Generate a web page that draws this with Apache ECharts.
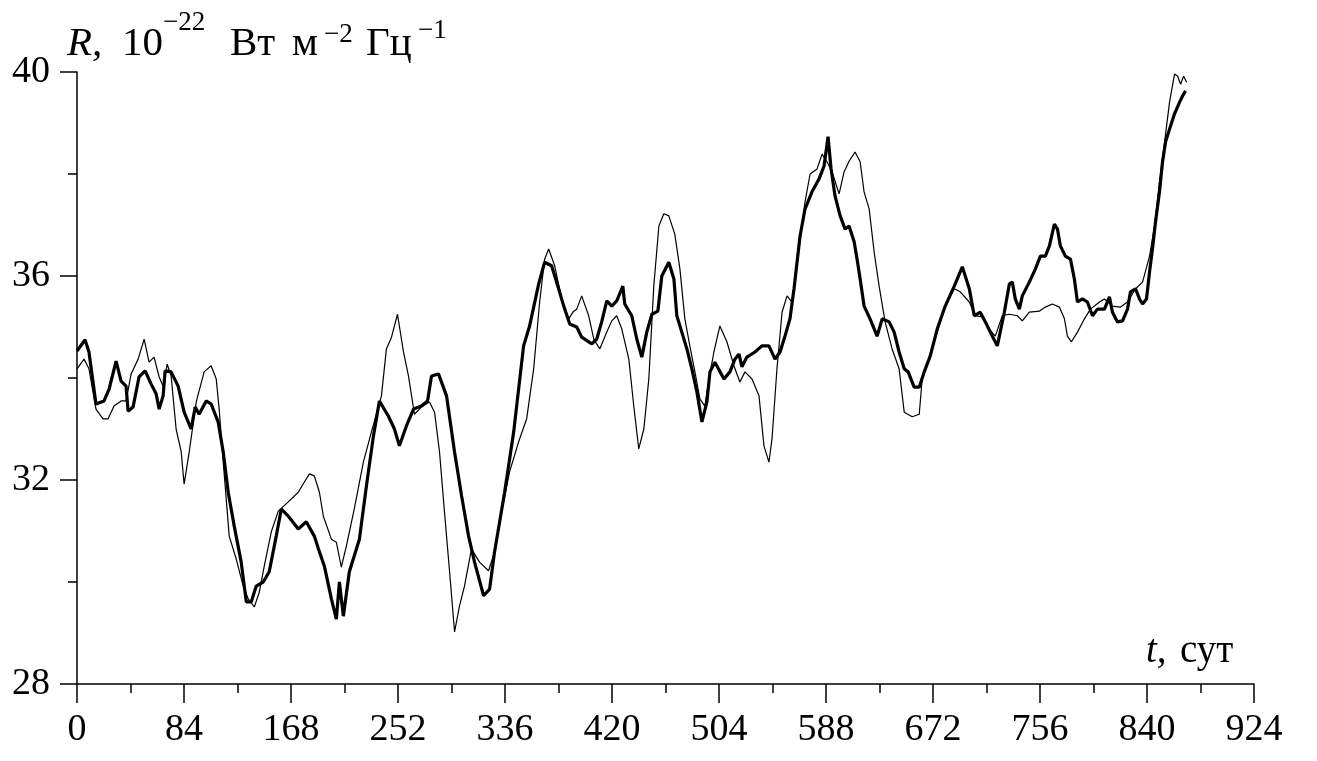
<!DOCTYPE html>
<html>
<head>
<meta charset="utf-8">
<script src="https://cdn.jsdelivr.net/npm/echarts@6/dist/echarts.min.js"></script>
<style>
html,body{margin:0;padding:0;background:#fff;}
#chart{width:1317px;height:761px;}
</style>
</head>
<body>
<div id="chart"></div>
<script>
// t (days), R (10^-22 W m^-2 Hz^-1)
const thickSeries = [
[0,34.53],[6.3,34.75],[9.4,34.51],[14.9,33.49],[21.2,33.55],[25.2,33.78],[30.7,34.33],[34.6,33.94],[38.5,33.84],[40.1,33.35],
[44.0,33.43],[48.7,34.02],[53.5,34.14],[58.2,33.88],[62.1,33.69],[64.5,33.39],[67.6,33.65],[69.2,34.14],[73.9,34.12],[79.4,33.84],
[84.1,33.33],[89.6,33.00],[92.8,33.43],[95.9,33.29],[101.4,33.55],[105.3,33.49],[110.8,33.14],[114.8,32.55],[118.7,31.76],[123.4,31.10],
[128.9,30.39],[132.9,29.61],[136.8,29.61],[140.7,29.92],[146.2,30.00],[150.9,30.20],[156.4,30.90],[160.4,31.43],[165.9,31.29],[173.7,31.04],
[180.0,31.18],[186.3,30.90],[189.5,30.65],[194.2,30.31],[199.7,29.67],[203.6,29.27],[206.0,30.00],[209.1,29.33],[213.8,30.20],[221.7,30.84],
[227.2,31.88],[232.7,32.86],[237.4,33.55],[244.5,33.25],[249.2,33.00],[253.1,32.67],[258.6,33.06],[264.2,33.39],[270.4,33.45],[275.2,33.55],
[278.3,34.04],[283.8,34.08],[290.1,33.65],[296.4,32.55],[301.9,31.69],[307.4,30.90],[312.1,30.39],[319.2,29.73],[323.9,29.86],[327.8,30.59],
[335.7,31.76],[342.8,32.94],[350.6,34.63],[355.3,35.02],[362.4,35.84],[367.1,36.27],[372.6,36.20],[378.1,35.75],[382.1,35.41],[386.8,35.06],
[392.3,35.00],[396.2,34.80],[404.1,34.67],[408.0,34.76],[411.9,35.10],[415.9,35.51],[419.8,35.41],[423.7,35.51],[428.5,35.80],[430.0,35.45],
[435.5,35.22],[439.5,34.76],[443.4,34.41],[447.3,34.90],[451.3,35.25],[456.0,35.31],[459.1,36.00],[464.6,36.27],[468.6,35.94],[470.9,35.22],
[474.8,34.90],[478.8,34.57],[482.7,34.18],[486.6,33.73],[490.6,33.14],[494.5,33.53],[496.9,34.12],[500.8,34.31],[507.9,33.98],[512.6,34.12],
[516.5,34.37],[519.7,34.47],[522.0,34.22],[525.9,34.41],[532.2,34.51],[537.7,34.63],[543.2,34.63],[548.0,34.37],[551.9,34.51],[555.8,34.82],
[559.7,35.16],[562.9,35.75],[567.6,36.78],[571.5,37.31],[577.0,37.65],[582.5,37.90],[586.5,38.16],[589.6,38.73],[592.0,38.10],[595.1,37.57],
[599.1,37.18],[603.0,36.92],[606.1,36.98],[610.1,36.67],[612.4,36.33],[614.8,35.94],[617.9,35.41],[622.6,35.16],[628.1,34.82],[632.1,35.16],
[637.6,35.10],[641.5,34.90],[645.4,34.51],[649.4,34.18],[652.5,34.12],[657.2,33.82],[661.2,33.82],[665.1,34.12],[669.8,34.43],[675.3,34.96],
[681.6,35.41],[688.7,35.80],[695.0,36.18],[700.5,35.75],[704.4,35.22],[709.1,35.29],[713.1,35.10],[718.6,34.82],[722.5,34.63],[728.0,35.29],
[731.9,35.84],[734.3,35.88],[736.6,35.55],[739.8,35.35],[742.1,35.61],[747.6,35.88],[752.4,36.14],[756.3,36.39],[760.2,36.39],[763.4,36.59],
[767.3,37.02],[769.7,36.92],[772.0,36.59],[775.9,36.39],[779.9,36.33],[783.0,35.94],[785.4,35.49],[789.3,35.55],[793.2,35.49],[797.2,35.22],
[801.1,35.35],[806.6,35.35],[810.5,35.59],[812.9,35.29],[816.8,35.10],[820.8,35.12],[824.7,35.35],[827.0,35.69],[831.0,35.75],[834.1,35.55],
[836.5,35.45],[839.6,35.55],[842.0,36.08],[844.3,36.53],[846.7,37.06],[849.8,37.65],[852.2,38.24],[854.6,38.63],[857.7,38.88],[861.6,39.18],
[865.6,39.41],[867.9,39.53],[870.3,39.63]
];
const thinSeries = [
[0,34.18],[5.5,34.37],[9.4,34.18],[14.9,33.39],[20.4,33.20],[24.4,33.20],[29.1,33.45],[34.6,33.55],[38.5,33.55],[42.5,34.08],
[48.0,34.37],[52.7,34.76],[56.6,34.31],[60.5,34.41],[64.5,34.02],[67.6,33.84],[70.8,34.27],[73.9,34.04],[77.8,33.00],[81.8,32.55],
[84.1,31.92],[88.1,32.55],[93.6,33.53],[99.8,34.12],[105.3,34.24],[109.3,33.98],[111.6,33.39],[114.8,32.35],[119.5,30.90],[125.0,30.45],
[130.5,29.92],[134.4,29.67],[139.2,29.51],[143.1,29.80],[147.0,30.31],[152.5,30.98],[158.0,31.39],[165.9,31.57],[173.7,31.76],[178.5,31.96],
[182.4,32.12],[186.3,32.08],[190.3,31.76],[193.4,31.29],[199.7,30.84],[203.6,30.78],[207.5,30.29],[211.5,30.71],[217.8,31.45],[224.8,32.35],
[231.1,32.94],[239.0,33.65],[242.9,34.57],[246.9,34.80],[251.6,35.25],[256.3,34.51],[260.2,34.04],[264.9,33.29],[270.4,33.43],[276.7,33.53],
[280.7,33.33],[284.6,32.55],[288.5,31.37],[292.5,30.20],[296.4,29.02],[300.3,29.53],[304.2,29.92],[309.7,30.65],[316.0,30.39],[323.1,30.22],
[327.8,30.59],[333.3,31.37],[339.6,32.16],[346.7,32.75],[353.0,33.20],[358.5,34.18],[363.2,35.49],[367.1,36.33],[370.3,36.53],[375.0,36.20],
[380.5,35.55],[386.0,35.16],[389.9,35.31],[392.3,35.35],[396.2,35.61],[401.7,35.22],[405.7,34.76],[410.4,34.57],[415.9,34.90],[419.8,35.12],
[423.7,35.22],[427.7,34.96],[433.2,34.37],[437.1,33.45],[441.0,32.61],[445.0,33.00],[448.9,33.98],[452.8,35.80],[456.8,36.98],[460.7,37.22],
[464.6,37.18],[469.3,36.82],[473.3,36.14],[477.2,35.16],[481.1,34.63],[485.1,34.12],[489.0,33.59],[492.9,33.45],[496.1,33.98],[500.0,34.51],
[504.7,35.02],[510.2,34.71],[515.7,34.24],[520.4,33.92],[524.4,34.12],[529.9,33.98],[535.4,33.65],[539.3,32.67],[543.2,32.35],[545.6,32.80],
[549.5,34.18],[553.5,35.29],[557.4,35.61],[561.3,35.49],[566.8,36.53],[571.5,37.45],[575.5,38.00],[581.0,38.10],[584.9,38.39],[588.8,38.24],
[592.8,38.04],[598.3,37.61],[602.2,38.04],[606.1,38.25],[610.8,38.43],[614.8,38.24],[617.9,37.65],[621.9,37.31],[625.8,36.47],[629.7,35.80],
[634.4,35.10],[639.9,34.57],[645.4,34.18],[649.4,33.33],[655.7,33.24],[661.2,33.29],[663.5,33.98],[669.0,34.37],[675.3,34.90],[681.6,35.41],
[688.7,35.75],[693.4,35.69],[700.5,35.49],[705.2,35.22],[710.7,35.20],[716.2,34.96],[720.9,34.82],[726.4,35.22],[731.9,35.25],[738.2,35.22],
[742.1,35.12],[747.6,35.29],[755.5,35.31],[760.2,35.39],[765.7,35.45],[771.2,35.39],[775.2,35.16],[777.5,34.82],[780.7,34.71],[785.4,34.90],
[790.9,35.16],[795.6,35.35],[802.7,35.49],[806.6,35.55],[812.9,35.41],[819.2,35.39],[824.7,35.49],[831.0,35.75],[836.5,35.88],[842.0,36.39],
[845.9,36.98],[849.8,37.84],[853.8,38.63],[857.7,39.41],[861.6,39.96],[864.0,39.92],[866.4,39.76],[868.7,39.92],[871.1,39.80]
];
const xMin = 0, xMax = 924, xStep = 84;
const yMin = 28, yMax = 40, yStep = 4;

const serif = '"Liberation Serif", "DejaVu Serif", serif';
const chart = echarts.init(document.getElementById('chart'), null, {renderer: 'canvas'});
chart.setOption({
  backgroundColor: '#fff',
  animation: false,
  grid: {left: 77, right: 63, top: 72, bottom: 77, containLabel: false},
  xAxis: {
    type: 'value', min: xMin, max: xMax, interval: xStep,
    axisLine: {show: true, onZero: false, lineStyle: {color: '#000', width: 1.5}},
    axisTick: {show: true, length: 19, lineStyle: {color: '#000', width: 1.5}},
    minorTick: {show: true, splitNumber: 2, length: 9, lineStyle: {color: '#000', width: 1.5}},
    splitLine: {show: false},
    axisLabel: {color: '#000', fontFamily: serif, fontSize: 38, margin: 27, showMaxLabel: true, showMinLabel: true}
  },
  yAxis: {
    type: 'value', min: yMin, max: yMax, interval: yStep,
    axisLine: {show: true, onZero: false, lineStyle: {color: '#000', width: 1.5}},
    axisTick: {show: true, length: 17, lineStyle: {color: '#000', width: 1.5}},
    minorTick: {show: true, splitNumber: 2, length: 9, lineStyle: {color: '#000', width: 1.5}},
    splitLine: {show: false},
    axisLabel: {color: '#000', fontFamily: serif, fontSize: 38, margin: 27}
  },
  graphic: [
    {type: 'text', x: 67, y: 44, style: {text: 'R,', font: 'italic 41px ' + serif, fill: '#000', verticalAlign: 'middle'}},
    {type: 'text', x: 122, y: 44, style: {text: '10', font: '41px ' + serif, fill: '#000', verticalAlign: 'middle'}},
    {type: 'text', x: 163, y: 23, style: {text: '\u221222', font: '27px ' + serif, fill: '#000', verticalAlign: 'middle'}},
    {type: 'text', x: 230, y: 44, style: {text: '\u0412\u0442', font: '41px ' + serif, fill: '#000', verticalAlign: 'middle'}},
    {type: 'text', x: 292, y: 44, style: {text: '\u043c', font: '41px ' + serif, fill: '#000', verticalAlign: 'middle'}},
    {type: 'text', x: 324, y: 35, style: {text: '\u22122', font: '27px ' + serif, fill: '#000', verticalAlign: 'middle'}},
    {type: 'text', x: 366, y: 44, style: {text: '\u0413\u0446', font: '41px ' + serif, fill: '#000', verticalAlign: 'middle'}},
    {type: 'text', x: 418, y: 31, style: {text: '\u22121', font: '27px ' + serif, fill: '#000', verticalAlign: 'middle'}},
    {type: 'text', x: 1146, y: 652, style: {text: 't,', font: 'italic 39px ' + serif, fill: '#000', verticalAlign: 'middle'}},
    {type: 'text', x: 1180, y: 652, style: {text: '\u0441\u0443\u0442', font: '39px ' + serif, fill: '#000', verticalAlign: 'middle'}}
  ],
  series: [
    {type: 'line', data: thinSeries, showSymbol: false, symbol: 'none', smooth: false,
     lineStyle: {color: '#000', width: 1.2}, z: 2},
    {type: 'line', data: thickSeries, showSymbol: false, symbol: 'none', smooth: false,
     lineStyle: {color: '#000', width: 3.2}, z: 3}
  ]
});
</script>
</body>
</html>
